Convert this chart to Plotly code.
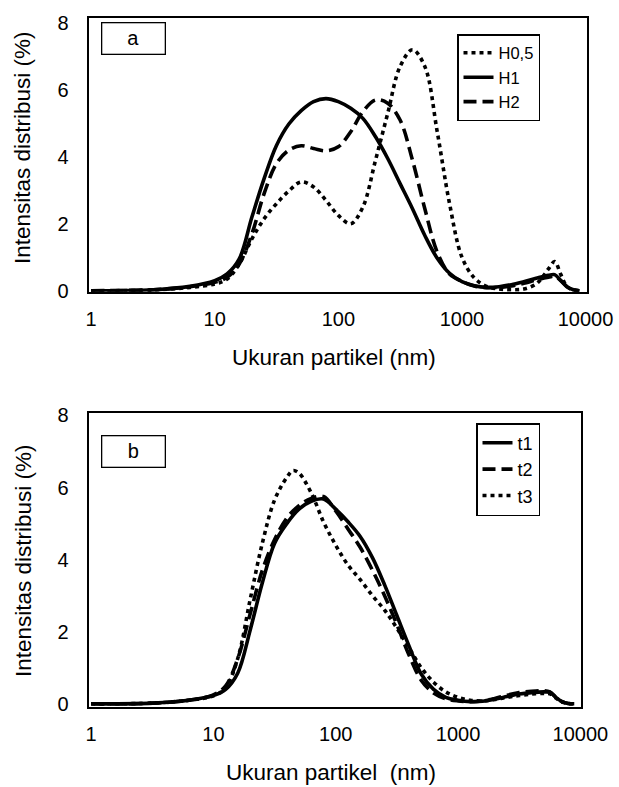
import plotly.graph_objects as go

# ---------------- shared particle-size grid (nm) ----------------
size_grid = [1, 3.2, 6.3, 10, 12.6, 15.8, 20, 25.1, 31.6, 39.8, 50.1, 63.1, 79.4, 100, 126, 158, 200, 251, 316, 398,
             501, 631, 794, 1000, 1259, 1585, 1995, 2512, 3162, 3981, 5012, 5623, 6310, 7079, 7943, 8913]

# ---------------- data (panel a) ----------------
size_H05 = [1, 3.2, 6.3, 10, 12.6, 15.8, 20, 25.1, 31.6, 39.8, 50.1, 63.1, 79.4, 100, 126, 158, 200, 251, 316, 398,
            501, 631, 794, 1000, 1259, 1585, 1995, 2512, 3162, 3981, 4467, 5012, 5623, 6310, 7079, 7943, 8913]
int_H05 = [0, 0.02, 0.1, 0.2, 0.35, 0.8, 1.55, 2.15, 2.6, 2.98, 3.25, 3.1, 2.7, 2.25, 2.0, 2.5, 3.9, 5.3, 6.7, 7.2,
           6.7, 4.75, 2.6, 1.0, 0.38, 0.13, 0.05, 0.03, 0.05, 0.2, 0.4, 0.65, 0.87, 0.48, 0.12, 0.02, 0]

int_H1 = [0, 0.03, 0.13, 0.3, 0.5, 0.95, 2.2, 3.35, 4.34, 4.98, 5.38, 5.65, 5.74, 5.65, 5.45, 5.15, 4.6, 3.95, 3.2, 2.45,
          1.65, 0.97, 0.52, 0.27, 0.15, 0.1, 0.12, 0.18, 0.27, 0.37, 0.46, 0.48, 0.3, 0.12, 0.03, 0]

int_H2 = [0, 0.03, 0.12, 0.25, 0.4, 0.8, 1.7, 2.9, 3.8, 4.2, 4.33, 4.25, 4.18, 4.3, 4.75, 5.35, 5.7, 5.6, 5.1, 3.9,
          2.45, 1.15, 0.5, 0.28, 0.14, 0.09, 0.1, 0.14, 0.22, 0.32, 0.4, 0.43, 0.3, 0.12, 0.03, 0]

# ---------------- data (panel b) ----------------
int_t1 = [0, 0.02, 0.1, 0.23, 0.4, 0.85, 2.05, 3.35, 4.45, 5.0, 5.4, 5.62, 5.68, 5.4, 5.05, 4.65, 4.05, 3.3, 2.45, 1.6,
          0.82, 0.4, 0.18, 0.1, 0.06, 0.07, 0.13, 0.2, 0.27, 0.31, 0.33, 0.32, 0.18, 0.06, 0.01, 0]

int_t2 = [0, 0.02, 0.1, 0.25, 0.5, 1.25, 2.5, 3.7, 4.55, 5.15, 5.5, 5.7, 5.75, 5.35, 4.85, 4.35, 3.7, 3.0, 2.2, 1.35,
          0.65, 0.3, 0.14, 0.08, 0.06, 0.08, 0.15, 0.24, 0.31, 0.35, 0.36, 0.33, 0.18, 0.06, 0.01, 0]

size_t3 = [1, 3.2, 6.3, 10, 12.6, 15.8, 20, 25.1, 31.6, 39.8, 44.7, 50.1, 63.1, 79.4, 100, 126, 158, 200, 251, 316, 398,
           501, 631, 794, 1000, 1259, 1585, 1995, 2512, 3162, 3981, 5012, 5623, 6310, 7079, 7943, 8913]
int_t3 = [0, 0.02, 0.1, 0.22, 0.45, 1.25, 2.9, 4.45, 5.65, 6.28, 6.47, 6.4, 5.85, 5.05, 4.4, 3.85, 3.45, 3.0, 2.6, 2.1,
          1.55, 1.0, 0.6, 0.33, 0.18, 0.1, 0.08, 0.12, 0.18, 0.23, 0.27, 0.29, 0.28, 0.16, 0.05, 0.01, 0]

x_tickvals = [1, 10, 100, 1000, 10000]
x_ticktext = ["1", "10", "100", "1000", "10000"]
y_tickvals = [0, 2, 4, 6, 8]
x_title_a = "Ukuran partikel (nm)"
x_title_b = "Ukuran partikel  (nm)"
y_title = "Intensitas distribusi (%)"

W, H = 619, 787
FONT = "Liberation Sans, Arial, Helvetica, sans-serif"


def px_x(p):
    return p / W


def px_y(p):
    return 1 - p / H


DOT = "4px,4px"
DASH = "13px,6px"
LW = 3.6

fig = go.Figure()


def add(x, y, name, dash, xa, ya, legend):
    fig.add_trace(go.Scatter(
        x=x, y=y, name=name, mode="lines",
        line=dict(color="black", width=LW, dash=dash, shape="spline", smoothing=1.0),
        xaxis=xa, yaxis=ya, legend=legend, hoverinfo="skip",
    ))


add(size_H05, int_H05, "H0,5", DOT, "x", "y", "legend")
add(size_grid, int_H1, "H1", "solid", "x", "y", "legend")
add(size_grid, int_H2, "H2", DASH, "x", "y", "legend")
add(size_grid, int_t1, "t1", "solid", "x2", "y2", "legend2")
add(size_grid, int_t2, "t2", DASH, "x2", "y2", "legend2")
add(size_t3, int_t3, "t3", DOT, "x2", "y2", "legend2")

axis_common = dict(
    showline=True, linecolor="black", linewidth=1.8, mirror=True,
    showgrid=False, zeroline=False, ticks="", automargin=False,
    tickfont=dict(family=FONT, size=20, color="black"),
)

fig.update_layout(
    width=W, height=H,
    margin=dict(l=0, r=0, t=0, b=0),
    paper_bgcolor="white", plot_bgcolor="white",
    font=dict(family=FONT, color="black"),
    xaxis=dict(
        type="log", range=[-0.02, 4.01], domain=[px_x(88.6), px_x(586.8)],
        tickvals=x_tickvals, ticktext=x_ticktext, anchor="y",
        ticklabelstandoff=8, **axis_common,
    ),
    yaxis=dict(
        range=[-0.03, 8.14], domain=[px_y(291.7), px_y(18.3)],
        tickvals=y_tickvals, anchor="x",
        ticklabelstandoff=14, **axis_common,
    ),
    xaxis2=dict(
        type="log", range=[-0.02, 4.005], domain=[px_x(88.6), px_x(581)],
        tickvals=x_tickvals, ticktext=x_ticktext, anchor="y2",
        ticklabelstandoff=8, **axis_common,
    ),
    yaxis2=dict(
        range=[-0.08, 8.06], domain=[px_y(706.7), px_y(413.3)],
        tickvals=y_tickvals, anchor="x2",
        ticklabelstandoff=14, **axis_common,
    ),
    legend=dict(
        x=px_x(457), y=px_y(34), xanchor="left", yanchor="top",
        bordercolor="black", borderwidth=1.5, bgcolor="white",
        font=dict(family=FONT, size=16.5, color="black"),
        itemwidth=30, tracegroupgap=0,
    ),
    legend2=dict(
        x=px_x(476), y=px_y(423), xanchor="left", yanchor="top",
        bordercolor="black", borderwidth=1.5, bgcolor="white",
        font=dict(family=FONT, size=18, color="black"),
        itemwidth=30, tracegroupgap=0,
    ),
    showlegend=True,
    hovermode=False,
)

# axis titles placed as paper annotations
TITLE_FONT = dict(family=FONT, size=22.5, color="black")
for text, cx, cy in ((x_title_a, 334, 357), (x_title_b, 331, 772)):
    fig.add_annotation(text=text, xref="paper", yref="paper", x=px_x(cx), y=px_y(cy),
                       xanchor="center", yanchor="middle", showarrow=False, font=TITLE_FONT)
for cy in (148, 561):
    fig.add_annotation(text=y_title, xref="paper", yref="paper", x=px_x(23), y=px_y(cy),
                       xanchor="center", yanchor="middle", showarrow=False, textangle=-90,
                       font=TITLE_FONT)

# panel labels "a" and "b" in boxes
for label, cy in (("a", 38.3), ("b", 451)):
    fig.add_annotation(
        text=label, xref="paper", yref="paper",
        x=px_x(133.5), y=px_y(cy), xanchor="center", yanchor="middle",
        showarrow=False, width=62, height=30, borderpad=0,
        bordercolor="black", borderwidth=1.3, bgcolor="white",
        font=dict(family=FONT, size=20, color="black"),
    )

fig.write_html(
    "out.html",
    config={"displayModeBar": False},
    post_script="document.body.style.margin='0';document.body.style.overflow='hidden';",
)
